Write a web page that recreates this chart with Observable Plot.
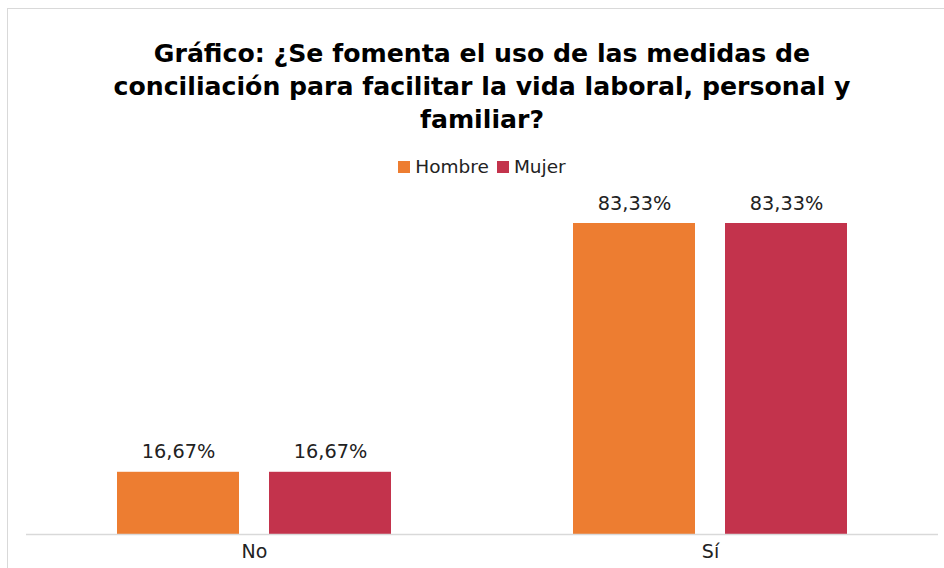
<!DOCTYPE html>
<html>
<head>
<meta charset="utf-8">
<script src="https://cdn.jsdelivr.net/npm/d3@7"></script>
<script src="https://cdn.jsdelivr.net/npm/@observablehq/plot@0.6"></script>
<style>
  html, body { margin: 0; padding: 0; background: #fff; width: 944px; height: 568px; overflow: hidden; font-family: "DejaVu Sans", sans-serif; }
  #frame { position: absolute; left: 7px; top: 8px; width: 1000px; height: 600px; border: 1px solid #d9d9d9; box-sizing: border-box; }
  #title { position: absolute; left: 0; width: 964px; top: 37px; text-align: center; font-weight: bold; font-size: 25.2px; line-height: 33px; color: #000; }
  #legend { position: absolute; left: 0; width: 964px; top: 156px; text-align: center; font-size: 18.5px; color: #222; }
  #legend span.sw { display: inline-block; width: 12px; height: 12px; margin-right: 5px; vertical-align: 0px; }
  #legend span.item { margin: 0 4px; }
  #chart { position: absolute; left: 0; top: 0; }
</style>
</head>
<body>
<div id="frame"></div>
<div id="title">Gráfico: ¿Se fomenta el uso de las medidas de<br>conciliación para facilitar la vida laboral, personal y<br>familiar?</div>
<div id="legend"></div>
<div id="chart"></div>
<script>
const categories = ["No", "Sí"];
const series = ["Hombre", "Mujer"];
const hombre = [16.67, 83.33];
const mujer = [16.67, 83.33];
const colors = ["#ED7D31", "#C3334C"];

const data = [];
categories.forEach((c, i) => {
  data.push({cat: c, gender: "Hombre", value: hombre[i]});
  data.push({cat: c, gender: "Mujer", value: mujer[i]});
});

const legend = document.getElementById("legend");
legend.innerHTML = series.map((s, i) =>
  `<span class="item"><span class="sw" style="background:${colors[i]}"></span>${s}</span>`).join("");

const fmt = v => v.toFixed(2).replace(".", ",") + "%";

const chart = Plot.plot({
  width: 944,
  height: 568,
  marginLeft: 26,
  marginRight: 6,
  marginTop: 223,
  marginBottom: 34,
  style: {fontFamily: "DejaVu Sans, sans-serif", background: "transparent"},
  fx: {domain: categories, padding: 0, label: null},
  x: {domain: series, paddingInner: 0.197, paddingOuter: 0.597, axis: null},
  y: {domain: [0, 83.33], axis: null},
  color: {domain: series, range: colors},
  marks: [
    Plot.barY(data, {fx: "cat", x: "gender", y: "value", fill: "gender"}),
    Plot.ruleY([0], {stroke: "#d9d9d9", strokeWidth: 1.5}),
    Plot.text(data, {fx: "cat", x: "gender", y: "value", text: d => fmt(d.value), dy: -20, fontSize: 19.3, fill: "#222"}),
    Plot.axisFx({anchor: "bottom", tickSize: 0, tickPadding: 10, fontSize: 19, color: "#222", label: null})
  ]
});
document.getElementById("chart").appendChild(chart);
</script>
</body>
</html>
